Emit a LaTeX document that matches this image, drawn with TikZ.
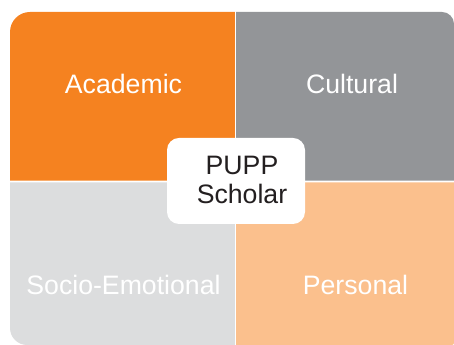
\documentclass[tikz,border=0pt]{standalone}
\usepackage{fontspec}
\setmainfont{Liberation Sans}

\definecolor{acadorange}{HTML}{F58220}
\definecolor{culturegray}{HTML}{939598}
\definecolor{sociogray}{HTML}{DCDDDE}
\definecolor{personalpeach}{HTML}{FBC08D}
\definecolor{hubtext}{HTML}{231F20}

\begin{document}
\begin{tikzpicture}[x=0.75pt,y=0.75pt,
		label/.style={text=white,font=\fontsize{20}{22}\selectfont,anchor=base,inner sep=0pt},
		hub/.style={fill=white,rounded corners=9pt,minimum width=103.5pt,minimum height=64.5pt,inner sep=0pt},
		hubtxt/.style={text=hubtext,font=\fontsize{20}{22}\selectfont,align=center,inner sep=0pt}]
				\useasboundingbox (0,0) rectangle (454,345);

				% the four quarters
				\fill[acadorange] (234.8,164.3) -- (10,164.3) -- (10,313) arc[start angle=180,end angle=90,radius=20] -- (234.8,333) -- cycle;
				\fill[culturegray] (236.2,164.3) -- (236.2,333) -- (442,333) arc[start angle=90,end angle=0,radius=12] -- (454,164.3) -- cycle;
				\fill[sociogray] (234.8,162.7) -- (10,162.7) -- (10,17) arc[start angle=180,end angle=270,radius=17] -- (234.8,0) -- cycle;
				\fill[personalpeach] (236.2,162.7) -- (454,162.7) -- (454,2) arc[start angle=0,end angle=-90,radius=2] -- (236.2,0) -- cycle;

				\node[label] (academic) at (123.5,251) {Academic};
				\node[label] (cultural) at (352,251) {Cultural};
				\node[label] (socio) at (123.5,50) {Socio-Emotional};
				\node[label] (personal) at (355.5,50) {Personal};

				% scholar in the middle
				\node[hub] (hub) at (236,164) {};
				\node[hubtxt] (scholar) at (242,165) {PUPP\\Scholar};
			\end{tikzpicture}
\end{document}
